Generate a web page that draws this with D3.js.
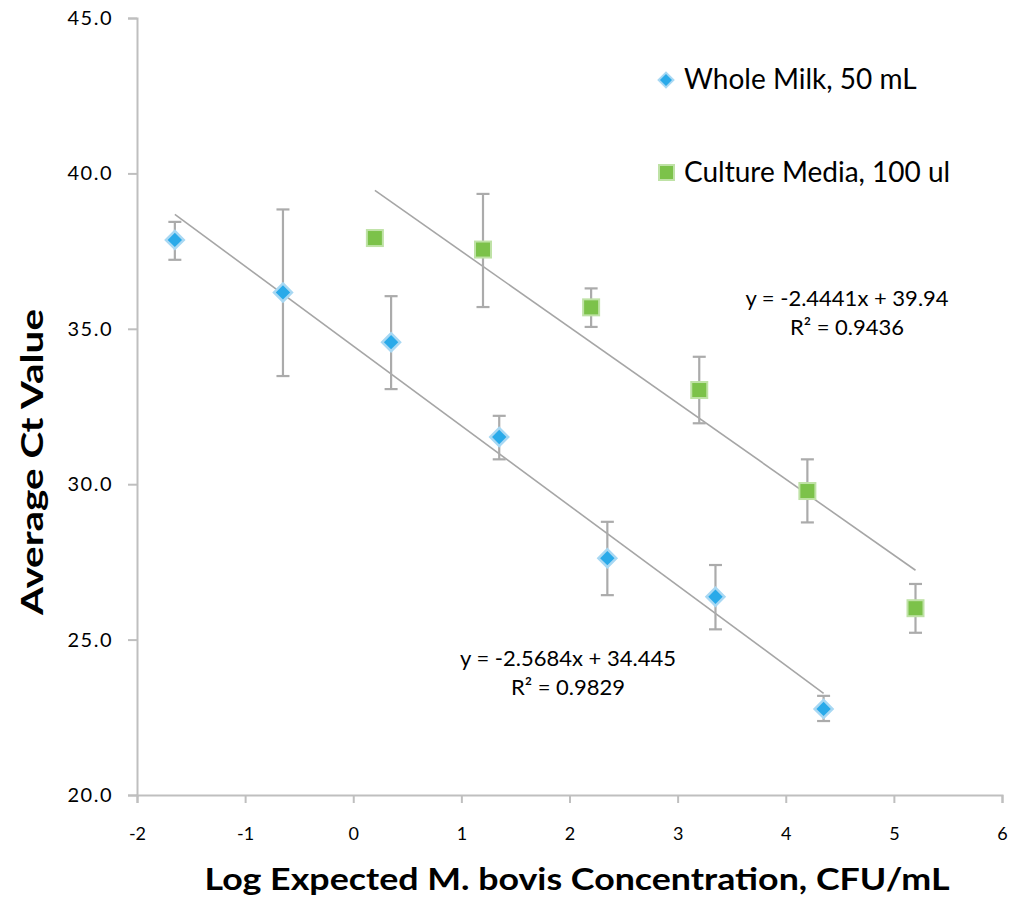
<!DOCTYPE html>
<html><head><meta charset="utf-8">
<script src="https://cdn.jsdelivr.net/npm/d3@7"></script>
<style>body{margin:0;background:#fff}svg{display:block}text{font-family:Lato,"Open Sans",sans-serif}</style>
</head><body><svg id="c" width="1012" height="898"></svg>
<script>
const milkX = [-1.65, -0.65, 0.35, 1.35, 2.35, 3.35, 4.35];
const milkY = [37.86, 36.17, 34.57, 31.52, 27.62, 26.38, 22.77];
const milkHi = [38.44, 38.84, 36.05, 32.2, 28.79, 27.4, 23.19];
const milkLo = [37.22, 33.48, 33.06, 30.8, 26.43, 25.33, 22.38];
const cultX = [0.2, 1.2, 2.2, 3.2, 4.2, 5.2];
const cultY = [37.92, 37.55, 35.69, 33.03, 29.78, 26.01];
const cultHi = [37.92, 39.34, 36.3, 34.1, 30.8, 26.79];
const cultLo = [37.92, 35.7, 35.06, 31.96, 28.77, 25.22];
const milkFit = {slope: -2.5684, intercept: 34.445, r2: "0.9829"};
const cultFit = {slope: -2.4441, intercept: 39.94, r2: "0.9436"};
const xTicks = [-2, -1, 0, 1, 2, 3, 4, 5, 6];
const yTicks = [20, 25, 30, 35, 40, 45];
const seriesNames = ["Whole Milk, 50 mL", "Culture Media, 100 ul"];

const svg = d3.select("#c");
const x = d3.scaleLinear().domain([-2, 6]).range([137, 1002]);
const y = d3.scaleLinear().domain([20, 45]).range([795, 18]);
const axisCol = "#BFBFBF";

// axes
const gx = svg.append("g").attr("transform", "translate(0,795)")
  .call(d3.axisBottom(x).tickValues(xTicks).tickSize(8).tickFormat(d3.format("d")));
gx.select(".domain").attr("stroke", axisCol).attr("stroke-width", 2);
gx.selectAll(".tick line").attr("stroke", axisCol).attr("stroke-width", 2);
gx.selectAll(".tick text").attr("font-size", 18).attr("fill", "#000").attr("dy", "1.9em")
  .text(d => d < 0 ? "-" + Math.abs(d) : d);

const gy = svg.append("g").attr("transform", "translate(137,0)")
  .call(d3.axisLeft(y).tickValues(yTicks).tickSize(9).tickFormat(d3.format(".1f")));
gy.select(".domain").attr("stroke", axisCol).attr("stroke-width", 2);
gy.selectAll(".tick line").attr("stroke", axisCol).attr("stroke-width", 2);
gy.selectAll(".tick text").attr("font-size", 20).attr("fill", "#000").attr("dx", "-0.6em")
  .attr("letter-spacing", 1.5);

// trendlines
const lineCol = "#A6A6A6";
function trend(fit, xs) {
  const x0 = d3.min(xs), x1 = d3.max(xs);
  svg.append("line")
    .attr("x1", x(x0)).attr("y1", y(fit.slope * x0 + fit.intercept))
    .attr("x2", x(x1)).attr("y2", y(fit.slope * x1 + fit.intercept))
    .attr("stroke", lineCol).attr("stroke-width", 1.6);
}
trend(milkFit, milkX);
trend(cultFit, cultX);

// error bars
const errCol = "#ABABAB";
function errs(xs, lo, hi) {
  const g = svg.append("g").attr("stroke", errCol).attr("stroke-width", 2.2);
  xs.forEach((xv, i) => {
    if (hi[i] === lo[i]) return;
    g.append("line").attr("x1", x(xv)).attr("x2", x(xv)).attr("y1", y(hi[i])).attr("y2", y(lo[i]));
    g.append("line").attr("x1", x(xv) - 6.5).attr("x2", x(xv) + 6.5).attr("y1", y(hi[i])).attr("y2", y(hi[i]));
    g.append("line").attr("x1", x(xv) - 6.5).attr("x2", x(xv) + 6.5).attr("y1", y(lo[i])).attr("y2", y(lo[i]));
  });
}
errs(milkX, milkLo, milkHi);
errs(cultX, cultLo, cultHi);

// markers
const blue = "#2AAAE9", blueEdge = "#A8D8F3";
const green = "#7CC24A", greenEdge = "#BFE2A6";
const diamond = d3.symbol().type(d3.symbolSquare).size(160);
function diamonds(xs, ys) {
  svg.append("g").selectAll("path").data(xs).join("path")
    .attr("d", diamond)
    .attr("transform", (d, i) => `translate(${x(d)},${y(ys[i])}) rotate(45)`)
    .attr("fill", blue).attr("stroke", blueEdge).attr("stroke-width", 2.5);
}
function squares(xs, ys) {
  svg.append("g").selectAll("rect").data(xs).join("rect")
    .attr("x", d => x(d) - 8).attr("y", (d, i) => y(ys[i]) - 8)
    .attr("width", 16).attr("height", 16)
    .attr("fill", green).attr("stroke", greenEdge).attr("stroke-width", 2);
}
diamonds(milkX, milkY);
squares(cultX, cultY);

// equations
function eq(fit, cx, cy) {
  const t = svg.append("text").attr("text-anchor", "middle").attr("font-size", 22).attr("fill", "#000");
  t.append("tspan").attr("x", cx).attr("y", cy)
    .text(`y = ${fit.slope}x + ${fit.intercept}`);
  t.append("tspan").attr("x", cx).attr("y", cy + 29).text(`R² = ${fit.r2}`);
}
eq(milkFit, 568, 666);
eq(cultFit, 847, 306);

// legend
const lg = svg.append("g");
lg.append("path").attr("d", d3.symbol().type(d3.symbolSquare).size(110))
  .attr("transform", "translate(666,80) rotate(45)")
  .attr("fill", blue).attr("stroke", blueEdge).attr("stroke-width", 2);
lg.append("rect").attr("x", 659).attr("y", 165).attr("width", 15).attr("height", 15)
  .attr("fill", green).attr("stroke", greenEdge).attr("stroke-width", 2);
lg.append("text").attr("x", 684).attr("y", 89).attr("font-size", 28).text(seriesNames[0]);
lg.append("text").attr("x", 684).attr("y", 182).attr("font-size", 28).text(seriesNames[1]);

// axis titles
svg.append("text").attr("x", 577).attr("y", 890).attr("text-anchor", "middle")
  .attr("font-size", 31).attr("font-weight", "bold")
  .attr("textLength", 745).attr("lengthAdjust", "spacingAndGlyphs")
  .text("Log Expected M. bovis Concentration, CFU/mL");
svg.append("text").attr("transform", "translate(43,462) rotate(-90)").attr("text-anchor", "middle")
  .attr("font-size", 31).attr("font-weight", "bold")
  .attr("textLength", 306).attr("lengthAdjust", "spacingAndGlyphs")
  .text("Average Ct Value");
</script></body></html>
